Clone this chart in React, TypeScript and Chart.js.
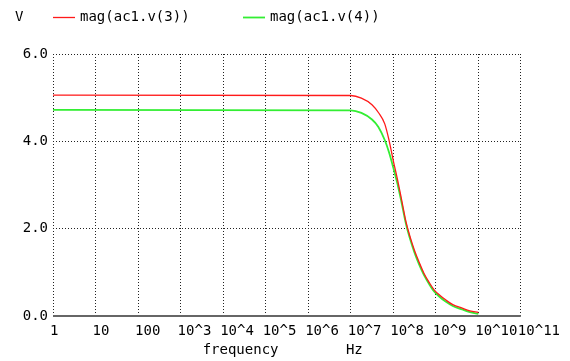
import React, { useEffect, useRef } from "react";
import { Chart, registerables } from "chart.js";

Chart.register(...registerables);

// frequency points (Hz)
const frequencies = [
  1, 1e7, 1.78e7, 3.16e7, 4.47e7, 6.31e7, 7.94e7, 1e8, 1.26e8, 1.58e8, 2e8,
  2.51e8, 3.16e8, 3.98e8, 5.25e8, 7.08e8, 9.12e8, 1.26e9, 1.7e9, 2.51e9,
  4.17e9, 6.31e9, 1e10,
];
// magnitude of ac1.v(3) (V)
const magV3 = [
  5.06, 5.05, 4.99, 4.84, 4.66, 4.4, 4.03, 3.56, 3.12, 2.65, 2.15, 1.8, 1.5,
  1.25, 0.98, 0.76, 0.6, 0.47, 0.37, 0.26, 0.18, 0.12, 0.08,
];
// magnitude of ac1.v(4) (V)
const magV4 = [
  4.72, 4.71, 4.65, 4.5, 4.33, 4.03, 3.75, 3.4, 3.02, 2.58, 2.1, 1.75, 1.45,
  1.2, 0.94, 0.72, 0.56, 0.43, 0.33, 0.23, 0.15, 0.09, 0.05,
];
const seriesNames = ["mag(ac1.v(3))", "mag(ac1.v(4))"];
const seriesColors = ["#ff1a1a", "#33ee33"];
const xTickValues = [1, 1e1, 1e2, 1e3, 1e4, 1e5, 1e6, 1e7, 1e8, 1e9, 1e10, 1e11];
const xTickLabels = ["1", "10", "100", "10^3", "10^4", "10^5", "10^6", "10^7", "10^8", "10^9", "10^10", "10^11"];
const yTickValues = [0, 2, 4, 6];
const yUnit = "V";
const xTitle = "frequency        Hz ";

const FONT = '"DejaVu Sans Mono", "Liberation Mono", monospace';

const headerLegend = {
  id: "headerLegend",
  afterDraw(chart: any) {
    const { ctx, chartArea } = chart;
    ctx.save();
    ctx.font = `14px ${FONT}`;
    ctx.textBaseline = "middle";
    ctx.textAlign = "left";
    const y = 17;
    ctx.fillStyle = "#000";
    ctx.fillText(yUnit, chartArea.left - 38, y);
    chart.data.datasets.forEach((ds: any, i: number) => {
      const x0 = chartArea.left + i * 190;
      ctx.strokeStyle = ds.borderColor;
      ctx.lineWidth = ds.borderWidth;
      ctx.beginPath();
      ctx.moveTo(x0, y + 0.5);
      ctx.lineTo(x0 + 22, y + 0.5);
      ctx.stroke();
      ctx.fillStyle = "#000";
      ctx.fillText(ds.label, x0 + 27, y);
    });
    ctx.restore();
  },
};

// solid base line along 0 V
const baseLine = {
  id: "baseLine",
  afterDatasetsDraw(chart: any) {
    const { ctx, chartArea, scales } = chart;
    const y0 = Math.round(scales.y.getPixelForValue(0));
    ctx.save();
    ctx.strokeStyle = "#666";
    ctx.lineWidth = 2;
    ctx.setLineDash([]);
    ctx.beginPath();
    ctx.moveTo(chartArea.left, y0);
    ctx.lineTo(chartArea.right, y0);
    ctx.stroke();
    ctx.restore();
  },
};

export default function App() {
  const ref = useRef<HTMLCanvasElement>(null);
  useEffect(() => {
    if (!ref.current) return;
    const chart = new Chart(ref.current, {
      type: "line",
      data: {
        datasets: [
          {
            label: seriesNames[0],
            data: frequencies.map((f, i) => ({ x: f, y: magV3[i] })),
            borderColor: seriesColors[0],
            borderWidth: 1.3,
            pointRadius: 0,
            cubicInterpolationMode: "monotone",
            fill: false,
            order: 0,
          },
          {
            label: seriesNames[1],
            data: frequencies.map((f, i) => ({ x: f, y: magV4[i] })),
            borderColor: seriesColors[1],
            borderWidth: 1.8,
            pointRadius: 0,
            cubicInterpolationMode: "monotone",
            fill: false,
            order: 1,
          },
        ],
      },
      options: {
        animation: false,
        responsive: true,
        maintainAspectRatio: false,
        devicePixelRatio: 1,
        layout: { padding: { top: 54, right: 48, left: 0, bottom: 0 } },
        plugins: { legend: { display: false }, tooltip: { enabled: false } },
        scales: {
          x: {
            type: "logarithmic",
            min: 1,
            max: 1e11,
            afterBuildTicks: (s: any) => {
              s.ticks = xTickValues.map((v) => ({ value: v }));
            },
            afterFit: (s: any) => {
              s.height = 45;
            },
            ticks: {
              autoSkip: false,
              maxRotation: 0,
              minRotation: 0,
              align: "start",
              labelOffset: -3,
              padding: 7,
              color: "#000",
              font: { family: FONT, size: 14 },
              callback: (_v: any, i: number) => xTickLabels[i],
            },
            grid: {
              color: "#222",
              lineWidth: 1,
              drawTicks: false,
            },
            border: { display: false, dash: [1, 2] },
            title: {
              display: true,
              text: xTitle,
              color: "#000",
              font: { family: FONT, size: 14 },
              padding: { top: 0, bottom: 2 },
            },
          },
          y: {
            min: 0,
            max: 6,
            afterBuildTicks: (s: any) => {
              s.ticks = yTickValues.map((v) => ({ value: v }));
            },
            afterFit: (s: any) => {
              s.width = 53;
            },
            ticks: {
              padding: 5,
              color: "#000",
              font: { family: FONT, size: 14 },
              callback: (v: any) => Number(v).toFixed(1),
            },
            grid: {
              color: (c: any) => (c.tick && c.tick.value === 0 ? "rgba(0,0,0,0)" : "#222"),
              lineWidth: 1,
              drawTicks: false,
            },
            border: { display: false, dash: [1, 2] },
          },
        },
      } as any,
      plugins: [headerLegend, baseLine],
    });
    return () => chart.destroy();
  }, []);
  return (
    <div style={{ position: "fixed", left: 0, top: 0, width: 570, height: 361, background: "#fff" }}>
      <canvas ref={ref} />
    </div>
  );
}
